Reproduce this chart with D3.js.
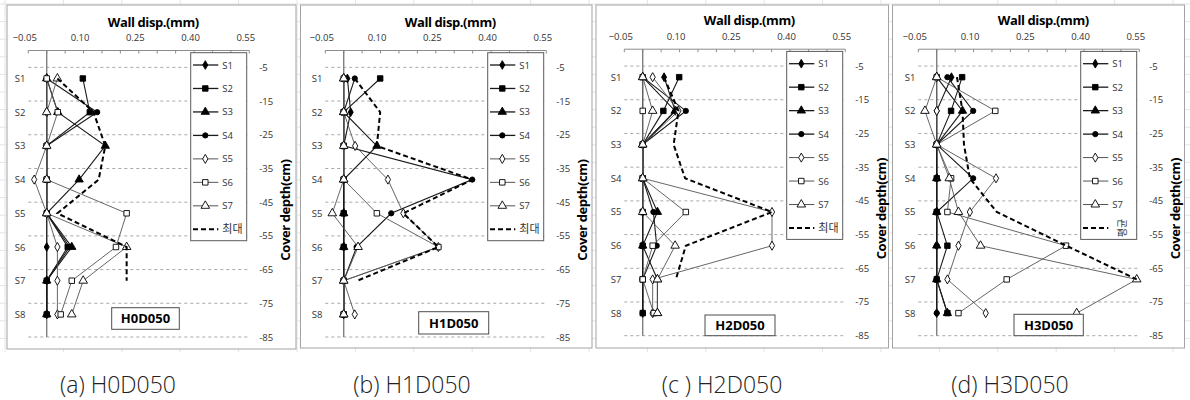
<!DOCTYPE html>
<html>
<head>
<meta charset="utf-8">
<script src="https://cdn.jsdelivr.net/npm/d3@7"></script>
<style>
body { margin: 0; background: #fff; }
svg { display: block; font-family: "Open Sans", "Noto Sans CJK KR", sans-serif; }
</style>
</head>
<body>
<svg id="canvas" width="1190" height="400"></svg>
<script>
// sensor rows and axes
let depthLabels = ['S1', 'S2', 'S3', 'S4', 'S5', 'S6', 'S7', 'S8']
let sensorDepth = [-8.3, -18.3, -28.3, -38.3, -48.3, -58.3, -68.3, -78.3]
let seriesNames = ['S1', 'S2', 'S3', 'S4', 'S5', 'S6', 'S7']
let xTickValues = [-0.05, 0.10, 0.25, 0.40, 0.55]
let yTickValues = [-5, -15, -25, -35, -45, -55, -65, -75, -85]

// wall displacement (mm), one row per series S1..S7, one value per sensor row S1..S8
let h0d050 = [
    [0, 0, 0, 0, 0, 0, 0, 0],
    [0.098, 0.117, 0, 0, 0, 0.057, 0, 0],
    [0, 0.03, 0.159, 0.088, 0, 0.068, 0, 0],
    [0, 0.137, 0, 0, 0, 0.062, 0, 0],
    [0, 0, 0, -0.034, 0, 0.029, 0.029, 0.029],
    [0, 0.03, 0, 0, 0.217, 0.188, 0.068, 0.038],
    [0.029, 0, 0, 0, 0, 0.217, 0.099, 0.068]
]
let h0d050Max = [0.029, 0.127, 0.159, 0.141, 0.029, 0.217, 0.217]

let h1d050 = [
    [0.01, 0.019, 0, 0, 0, 0, 0, 0],
    [0.099, 0, 0, 0, 0, 0, 0, 0],
    [0, 0, 0.09, 0, 0, 0, 0, 0],
    [0.03, 0, 0, 0.349, 0.129, 0.035, 0, 0],
    [0, 0, 0.031, 0.12, 0.162, 0.257, 0, 0.03],
    [0, 0, 0, 0, 0.09, 0.257, 0, 0],
    [0, 0, 0, 0, -0.031, 0.039, 0, 0]
]
let h1d050Max = [0.03, 0.099, 0.09, 0.349, 0.162, 0.257, 0.037]

let h2d050 = [
    [0.058, 0.088, 0, 0, 0, 0, 0, 0],
    [0.099, 0.056, 0, 0, 0, 0, 0, 0],
    [0, 0.088, 0, 0, 0.04, 0, 0.04, 0.04],
    [0, 0.117, 0, 0, 0.029, 0.038, 0, 0],
    [0.027, 0.097, 0, 0, 0.351, 0.351, 0.027, 0.027],
    [0, 0, 0, 0, 0.117, 0.027, 0, 0.03],
    [0, 0.027, 0, 0, 0, 0.088, 0.04, 0.04]
]
let h2d050Max = [0.058, 0.097, 0.084, 0.115, 0.351, 0.117, 0.09]

let h3d050 = [
    [0.04, 0, 0, 0, 0, 0, 0, 0],
    [0.069, 0.039, 0, 0, 0, 0.029, 0, 0.029],
    [0, 0.07, 0, 0, 0, 0, 0, 0.029],
    [0.029, 0.099, 0, 0.099, 0, 0, 0, 0],
    [0, 0, 0, 0.161, 0.09, 0.059, 0.029, 0.133],
    [0, 0.159, 0, 0.039, 0.029, 0.351, 0.19, 0.059],
    [0, -0.032, 0, 0.034, 0.059, 0.119, 0.543, 0.38]
]
let h3d050Avg = [0.055, 0.07, 0.074, 0.09, 0.163, 0.352, 0.543]

let panelNames = ['H0D050', 'H1D050', 'H2D050', 'H3D050']
let captions = ['(a) H0D050', '(b) H1D050', '(c ) H2D050', '(d) H3D050']
let dashedNames = ['최대', '최대', '최대', '평균']
let panelSeries = [h0d050, h1d050, h2d050, h3d050]
let panelDashed = [h0d050Max, h1d050Max, h2d050Max, h3d050Avg]

let canvas = d3.select('#canvas')

// layout of the four panels
let layout = [
    {x0: 28.3, dy: 0, frame: [7, 5, 296, 349], box: [83.4, 307.7, 67.6, 21.6], cap: 118},
    {x0: 325.3, dy: 0, frame: [300.5, 5, 592, 348], box: [93.4, 311.7, 70, 22.3], cap: 412},
    {x0: 624.3, dy: -1.3, frame: [596, 5, 888.5, 348], box: [80.7, 315, 70, 20.7], cap: 722},
    {x0: 918.3, dy: -1.3, frame: [892.5, 5, 1184.5, 348], box: [95.7, 314.3, 69.3, 21.4], cap: 1010}
]

let markers = [
    {type: d3.symbolDiamond, size: 22, fill: '#000'},
    {type: d3.symbolSquare, size: 30, fill: '#000'},
    {type: d3.symbolTriangle, size: 30, fill: '#000'},
    {type: d3.symbolCircle, size: 22, fill: '#000'},
    {type: d3.symbolDiamond, size: 24, fill: '#fff'},
    {type: d3.symbolSquare, size: 30, fill: '#fff'},
    {type: d3.symbolTriangle, size: 32, fill: '#fff'}
]

// faint spreadsheet grid behind the charts
let bg = canvas.append('g')
bg.selectAll('line.v')
    .data(d3.range(5, 1190, 58.4))
    .enter().append('line')
    .attr('x1', d => d).attr('x2', d => d)
    .attr('y1', 0).attr('y2', 352)
    .attr('stroke', '#e4e4e4')
bg.selectAll('line.h')
    .data(d3.range(4, 352, 17.6))
    .enter().append('line')
    .attr('x1', 0).attr('x2', 1190)
    .attr('y1', d => d).attr('y2', d => d)
    .attr('stroke', '#e4e4e4')

let drawPanel = (p, i) => {
    let L = layout[i]
    let x = d3.scaleLinear().domain([-0.05, 0.55]).range([L.x0, L.x0 + 221])
    let y = d3.scaleLinear().domain([0, -85]).range([50.5 + L.dy, 337 + L.dy])
    let g = canvas.append('g')

    // chart frame
    g.append('rect')
        .attr('x', L.frame[0]).attr('y', L.frame[1])
        .attr('width', L.frame[2] - L.frame[0]).attr('height', L.frame[3] - L.frame[1])
        .attr('fill', '#fff').attr('stroke', '#a3a3a3')

    // dashed gridlines
    g.selectAll('.grid')
        .data(yTickValues)
        .enter().append('line')
        .attr('x1', x(-0.05)).attr('x2', x(0.55))
        .attr('y1', d => y(d)).attr('y2', d => y(d))
        .attr('stroke', '#a8a8a8').attr('stroke-dasharray', '3,3')

    // right depth labels
    g.selectAll('.ylab')
        .data(yTickValues)
        .enter().append('text')
        .attr('x', L.x0 + 231).attr('y', d => y(d) + 3.5)
        .attr('font-size', 9.5).attr('fill', '#333')
        .text(d => d)

    // top axis
    g.append('line')
        .attr('x1', x(-0.05)).attr('x2', x(0.55))
        .attr('y1', y(0)).attr('y2', y(0))
        .attr('stroke', '#8c8c8c')
    g.selectAll('.tick')
        .data(x.ticks(12))
        .enter().append('line')
        .attr('x1', d => x(d)).attr('x2', d => x(d))
        .attr('y1', y(0)).attr('y2', y(0) + 3)
        .attr('stroke', '#8c8c8c')
    g.selectAll('.xlab')
        .data(xTickValues)
        .enter().append('text')
        .attr('x', d => x(d) - 3.5).attr('y', 41.3 + L.dy)
        .attr('text-anchor', 'middle').attr('font-size', 9.5).attr('fill', '#333')
        .text(d => d3.format('.2f')(d))
    g.append('text')
        .attr('x', L.x0 + 125).attr('y', 26.5 + L.dy)
        .attr('text-anchor', 'middle').attr('font-size', 13).attr('font-weight', 'bold')
        .attr('letter-spacing', -0.4)
        .text('Wall disp.(mm)')
    g.append('text')
        .attr('transform', 'translate(' + (L.x0 + 262) + ',' + (210 + L.dy) + ') rotate(-90)')
        .attr('text-anchor', 'middle').attr('font-size', 13).attr('font-weight', 'bold')
        .attr('letter-spacing', -0.4)
        .text('Cover depth(cm)')

    // zero line
    g.append('line')
        .attr('x1', x(0)).attr('x2', x(0))
        .attr('y1', y(0)).attr('y2', y(-85))
        .attr('stroke', '#7f7f7f').attr('stroke-width', 1.4)

    // sensor labels
    g.selectAll('.slab')
        .data(depthLabels)
        .enter().append('text')
        .attr('x', L.x0 - 13.5).attr('y', (d, j) => y(sensorDepth[j]) + 3.5)
        .attr('font-size', 9.5).attr('fill', '#333')
        .text(d => d)

    // series lines and markers
    let line = d3.line().x(d => x(d[0])).y(d => y(d[1]))
    panelSeries[i].forEach((vals, k) => {
        let pts = vals.map((v, j) => [v, sensorDepth[j]])
        g.append('path')
            .attr('d', line(pts))
            .attr('fill', 'none')
            .attr('stroke', k < 4 ? '#1a1a1a' : '#555')
            .attr('stroke-width', k < 4 ? 1.1 : 0.9)
        g.selectAll('.m' + k)
            .data(pts)
            .enter().append('path')
            .attr('transform', d => 'translate(' + x(d[0]) + ',' + y(d[1]) + ')')
            .attr('d', d3.symbol().type(markers[k].type).size(markers[k].size))
            .attr('fill', markers[k].fill).attr('stroke', '#000').attr('stroke-width', 0.9)
    })

    // max / average dashed line
    let dpts = panelDashed[i].map((v, j) => [v, sensorDepth[j]])
    g.append('path')
        .attr('d', line(dpts))
        .attr('fill', 'none').attr('stroke', '#000')
        .attr('stroke-width', 2).attr('stroke-dasharray', '5,3')

    // legend
    let lx = L.x0 + 162.4
    let ly = 52.7 + L.dy
    g.append('rect')
        .attr('x', lx).attr('y', ly).attr('width', 56).attr('height', 188)
        .attr('fill', '#fff').attr('stroke', '#5a5a5a')
    seriesNames.forEach((name, k) => {
        let yy = ly + 12.3 + k * 23.47
        g.append('line')
            .attr('x1', lx + 2.3).attr('x2', lx + 27.6)
            .attr('y1', yy).attr('y2', yy)
            .attr('stroke', k < 4 ? '#1a1a1a' : '#555')
            .attr('stroke-width', k < 4 ? 1.3 : 1)
        g.append('path')
            .attr('transform', 'translate(' + (lx + 14.6) + ',' + yy + ')')
            .attr('d', d3.symbol().type(markers[k].type).size(markers[k].size))
            .attr('fill', markers[k].fill).attr('stroke', '#000').attr('stroke-width', 0.9)
        g.append('text')
            .attr('x', lx + 31.6).attr('y', yy + 3.5)
            .attr('font-size', 9.5).attr('fill', '#333')
            .text(name)
    })
    let dy7 = ly + 12.3 + 7 * 23.47
    g.append('line')
        .attr('x1', lx + 2.3).attr('x2', lx + 27.6)
        .attr('y1', dy7).attr('y2', dy7)
        .attr('stroke', '#000').attr('stroke-width', 2).attr('stroke-dasharray', '5,3')
    if (i === 3) {
        g.append('text')
            .attr('transform', 'translate(' + (lx + 42) + ',' + dy7 + ') rotate(-90)')
            .attr('text-anchor', 'middle').attr('dy', '0.35em')
            .attr('font-family', '"Noto Sans CJK KR"')
            .attr('font-size', 10).attr('fill', '#333')
            .text(dashedNames[i])
    } else {
        g.append('text')
            .attr('x', lx + 31.6).attr('y', dy7 + 4)
            .attr('font-family', '"Noto Sans CJK KR"')
            .attr('font-size', 11).attr('fill', '#333')
            .text(dashedNames[i])
    }

    // case label box
    g.append('rect')
        .attr('x', L.x0 + L.box[0]).attr('y', L.box[1])
        .attr('width', L.box[2]).attr('height', L.box[3])
        .attr('fill', '#fff').attr('stroke', '#4d4d4d')
    g.append('text')
        .attr('x', L.x0 + L.box[0] + L.box[2] / 2).attr('y', L.box[1] + L.box[3] / 2)
        .attr('dy', '0.36em')
        .attr('text-anchor', 'middle').attr('font-size', 13).attr('font-weight', 'bold')
        .text(p)

    // caption
    canvas.append('text')
        .attr('x', L.cap).attr('y', 393)
        .attr('text-anchor', 'middle').attr('font-size', 23).attr('font-weight', 300)
        .attr('fill', '#222')
        .text(captions[i])
}

panelNames.forEach(drawPanel)
</script>
</body>
</html>
